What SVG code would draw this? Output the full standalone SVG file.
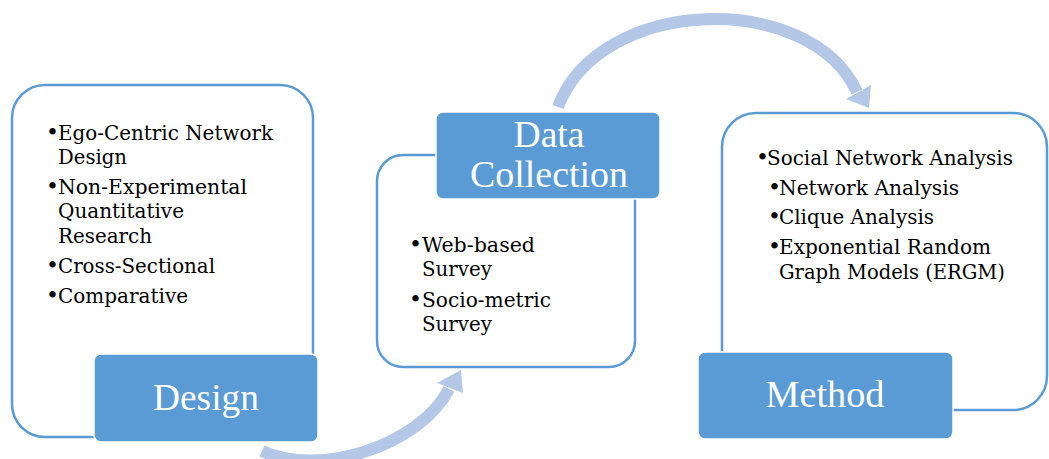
<svg xmlns="http://www.w3.org/2000/svg" width="1049" height="459" viewBox="0 0 1049 459">
  <style>
    .frame { fill: #FFFFFF; stroke: #5B9BD5; stroke-width: 2.5; }
    .label { fill: #5B9BD5; stroke: #FFFFFF; stroke-width: 1.5; }
    .title { font-family: "Liberation Serif", "Times New Roman", serif; font-size: 37px; fill: #FFFFFF; text-anchor: middle; }
    .item { font-family: "DejaVu Serif", "Liberation Serif", serif; font-size: 20.5px; fill: #000000; }
    .dot { font-family: "DejaVu Serif", "Liberation Serif", serif; font-size: 22px; fill: #000000; }
    .flow { fill: none; stroke: #B4C7E7; stroke-width: 12; stroke-linecap: butt; }
    .head { fill: #B4C7E7; stroke: none; }
  </style>

  <!-- curved flow arrows between the stages -->
  <g id="connectors">
    <path class="flow" d="M262,451 C320,478 420,445 449,389"/>
    <polygon class="head" points="461,370 437,383 463,393"/>
    <path class="flow" d="M558,107 C600,-5 810,-10 857,92"/>
    <polygon class="head" points="869,108 846,99 871,85"/>
  </g>

  <!-- stage 1: Design -->
  <g id="node-design">
    <rect class="frame" x="12" y="85" width="301" height="352" rx="33" ry="33"/>
    <text class="dot" x="46" y="140">•</text>
    <text class="item" x="58" y="140" textLength="215" lengthAdjust="spacingAndGlyphs">Ego-Centric Network</text>
    <text class="item" x="58" y="164" textLength="69" lengthAdjust="spacingAndGlyphs">Design</text>
    <text class="dot" x="46" y="194">•</text>
    <text class="item" x="58" y="194" textLength="189" lengthAdjust="spacingAndGlyphs">Non-Experimental</text>
    <text class="item" x="58" y="218" textLength="126" lengthAdjust="spacingAndGlyphs">Quantitative</text>
    <text class="item" x="58" y="243" textLength="94" lengthAdjust="spacingAndGlyphs">Research</text>
    <text class="dot" x="46" y="273">•</text>
    <text class="item" x="58" y="273" textLength="157" lengthAdjust="spacingAndGlyphs">Cross-Sectional</text>
    <text class="dot" x="46" y="303">•</text>
    <text class="item" x="58" y="303" textLength="130" lengthAdjust="spacingAndGlyphs">Comparative</text>
    <rect class="label" x="94" y="354" width="224" height="88" rx="7" ry="7"/>
    <text class="title" x="206" y="410" textLength="106" lengthAdjust="spacingAndGlyphs">Design</text>
  </g>

  <!-- stage 2: Data Collection -->
  <g id="node-data-collection">
    <rect class="frame" x="377" y="155" width="258" height="212" rx="26" ry="26"/>
    <text class="dot" x="409" y="252">•</text>
    <text class="item" x="422" y="252" textLength="113" lengthAdjust="spacingAndGlyphs">Web-based</text>
    <text class="item" x="422" y="276" textLength="70" lengthAdjust="spacingAndGlyphs">Survey</text>
    <text class="dot" x="409" y="307">•</text>
    <text class="item" x="422" y="307" textLength="129" lengthAdjust="spacingAndGlyphs">Socio-metric</text>
    <text class="item" x="422" y="331" textLength="70" lengthAdjust="spacingAndGlyphs">Survey</text>
    <rect class="label" x="436" y="112" width="224" height="87" rx="7" ry="7"/>
    <text class="title" x="549" y="147" textLength="71" lengthAdjust="spacingAndGlyphs">Data</text>
    <text class="title" x="549" y="187" textLength="158" lengthAdjust="spacingAndGlyphs">Collection</text>
  </g>

  <!-- stage 3: Method -->
  <g id="node-method">
    <rect class="frame" x="722" y="113" width="325" height="297" rx="34" ry="34"/>
    <text class="dot" x="756" y="165">•</text>
    <text class="item" x="767" y="165" textLength="246" lengthAdjust="spacingAndGlyphs">Social Network Analysis</text>
    <text class="dot" x="768" y="195">•</text>
    <text class="item" x="779" y="195" textLength="180" lengthAdjust="spacingAndGlyphs">Network Analysis</text>
    <text class="dot" x="768" y="224">•</text>
    <text class="item" x="779" y="224" textLength="155" lengthAdjust="spacingAndGlyphs">Clique Analysis</text>
    <text class="dot" x="768" y="254">•</text>
    <text class="item" x="779" y="254" textLength="212" lengthAdjust="spacingAndGlyphs">Exponential Random</text>
    <text class="item" x="779" y="279" textLength="226" lengthAdjust="spacingAndGlyphs">Graph Models (ERGM)</text>
    <rect class="label" x="698" y="352" width="255" height="87" rx="7" ry="7"/>
    <text class="title" x="825" y="407" textLength="119" lengthAdjust="spacingAndGlyphs">Method</text>
  </g>
</svg>
